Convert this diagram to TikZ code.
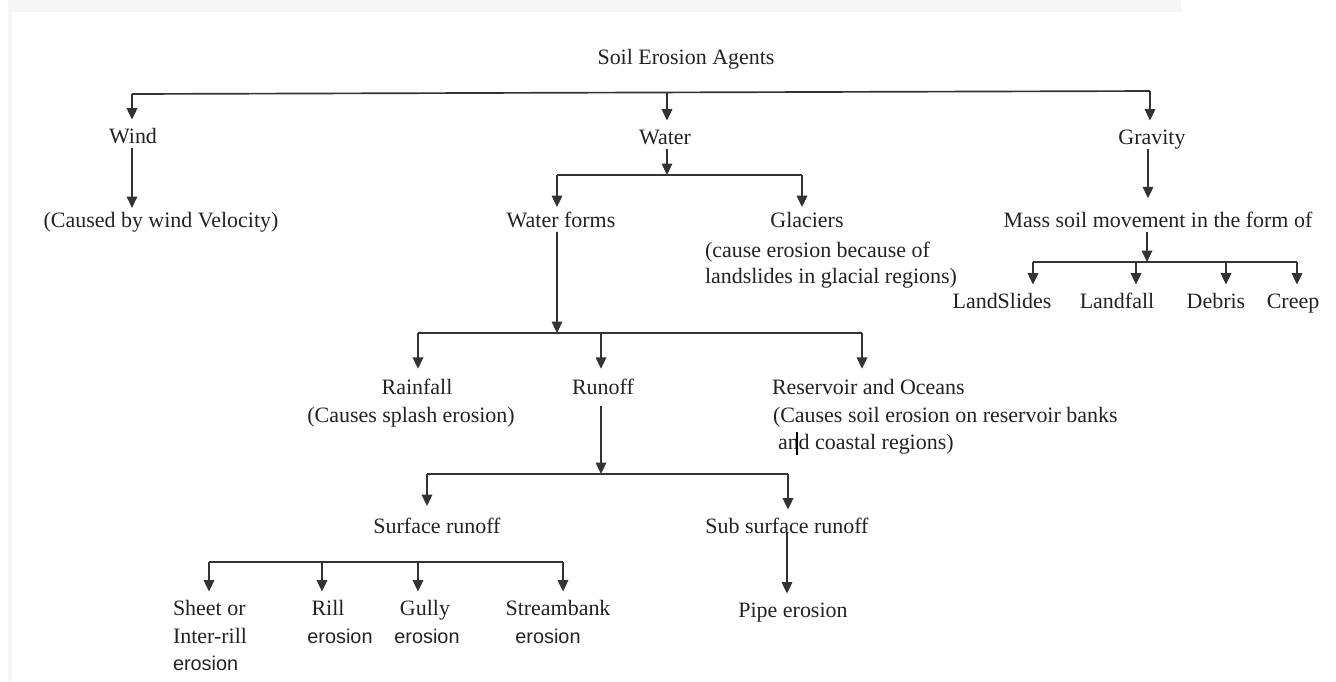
\documentclass[tikz,border=0pt]{standalone}
\usepackage{fontspec}
\setmainfont{Liberation Serif}
\newfontfamily\sansf{Liberation Sans}
\usetikzlibrary{arrows.meta}
\definecolor{lncol}{HTML}{333333}
\definecolor{txtcol}{HTML}{222222}
\definecolor{stripcol}{HTML}{F6F6F6}
\begin{document}
\begin{tikzpicture}[x=0.02cm,y=-0.02cm,
  lbl/.style={inner sep=0pt, outer sep=0pt, font=\fontsize{12.5}{15.6}\selectfont, text height=8.5pt, text depth=2.5pt, text=txtcol},
  sl/.style={lbl, font=\sansf\fontsize{11.3}{15.6}\selectfont},
  ln/.style={draw=lncol, line width=0.95pt},
  arr/.style={ln, -{Triangle[length=6.5pt,width=6pt]}, shorten >=5pt},
]
\useasboundingbox (0,0) rectangle (1336,681);
\fill[stripcol] (8,0) rectangle (1181,12);
\fill[stripcol] (8,12) rectangle (12,681);

% nodes
\node[lbl] (title) at (686,59) {Soil Erosion Agents};
\node[lbl] (wind) at (133,138) {Wind};
\node[lbl] (water) at (665,139) {Water};
\node[lbl] (gravity) at (1152,139) {Gravity};
\node[lbl] (windc) at (161,222) {(Caused by wind Velocity)};
\node[lbl] (wforms) at (561,222) {Water forms};
\node[lbl] (glaciers) at (807,222) {Glaciers};
\node[lbl,anchor=west] (glac2) at (705,252) {(cause erosion because of};
\node[lbl,anchor=west] (glac3) at (705,278) {landslides in glacial regions)};
\node[lbl] (mass) at (1158,222) {Mass soil movement in the form of};
\node[lbl] (landslides) at (1002,303) {LandSlides};
\node[lbl] (landfall) at (1117,303) {Landfall};
\node[lbl] (debris) at (1216,303) {Debris};
\node[lbl] (creep) at (1293,303) {Creep};
\node[lbl] (rainfall) at (417,389) {Rainfall};
\node[lbl] (splash) at (411,417) {(Causes splash erosion)};
\node[lbl] (runoff) at (603,389) {Runoff};
\node[lbl,anchor=west] (reservoir) at (772,389) {Reservoir and Oceans};
\node[lbl,anchor=west] (res2) at (773,417) {(Causes soil erosion on reservoir banks};
\node[lbl,anchor=west] (res3) at (778,444) {and coastal regions)};
\node[lbl] (surface) at (437,528) {Surface runoff};
\node[lbl] (sub) at (787,528) {Sub surface runoff};
\node[lbl] (pipe) at (793,612) {Pipe erosion};
\node[lbl,anchor=west] (sheet) at (173,610) {Sheet or};
\node[lbl,anchor=west] (sheet2) at (173,638) {Inter-rill};
\node[sl,anchor=west] (sheet3) at (173,665) {erosion};
\node[lbl] (rill) at (328,610) {Rill};
\node[sl] (rill2) at (340,638) {erosion};
\node[lbl] (gully) at (425,610) {Gully};
\node[sl] (gully2) at (427,638) {erosion};
\node[lbl] (stream) at (558,610) {Streambank};
\node[sl] (stream2) at (548,638) {erosion};

% top level bar
\coordinate (tb1) at (132,94);
\coordinate (tb2) at (1150,91);
\coordinate (tb3) at (667,92.4);
\draw[ln] (tb1) -- (tb2);
\draw[arr] (tb1) -- (tb1 |- wind.north);
\draw[arr] (tb3) -- (tb3 |- water.north);
\draw[arr] (tb2) -- (tb2 |- gravity.north);

% wind
\draw[arr, shorten >=2.5pt] (wind.south -| tb1) -- (tb1 |- windc.north);

% water
\coordinate (wb1) at (557,175);
\coordinate (wb2) at (802,175);
\draw[ln] (wb1) -- (wb2);
\draw[arr, shorten >=0pt] (water.south -| tb3) -- (tb3 |- wb1);
\draw[arr, shorten >=3pt] (wb1) -- (wb1 |- wforms.north);
\draw[arr, shorten >=3pt] (wb2) -- (wb2 |- glaciers.north);

% gravity
\coordinate (gc) at (1148,200);
\draw[arr, shorten >=8pt] (gravity.south -| gc) -- (gc |- mass.north);
\coordinate (mb1) at (1033,262);
\coordinate (mb2) at (1136,262);
\coordinate (mb3) at (1226,262);
\coordinate (mb4) at (1297,262);
\coordinate (mc) at (1147,262);
\draw[ln] (mb1) -- (mb4);
\draw[arr, shorten >=0pt] (mass.south -| mc) -- (mc);
\draw[arr] (mb1) -- (mb1 |- landslides.north);
\draw[arr] (mb2) -- (mb2 |- landfall.north);
\draw[arr] (mb3) -- (mb3 |- debris.north);
\draw[arr] (mb4) -- (mb4 |- creep.north);

% water forms
\coordinate (fb1) at (418,333);
\coordinate (fb2) at (601,333);
\coordinate (fb3) at (862,333);
\coordinate (fc) at (557,333);
\draw[ln] (fb1) -- (fb3);
\draw[arr, shorten >=0pt] (wforms.south -| fc) -- (fc);
\draw[arr, shorten >=6pt] (fb1) -- (fb1 |- rainfall.north);
\draw[arr, shorten >=6pt] (fb2) -- (fb2 |- runoff.north);
\draw[arr, shorten >=6pt] (fb3) -- (fb3 |- reservoir.north);

% runoff
\coordinate (rb1) at (427,474);
\coordinate (rb2) at (788,474);
\coordinate (rc) at (601,474);
\draw[ln] (rb1) -- (rb2);
\draw[arr, shorten >=0pt, shorten <=4pt] (runoff.south -| rc) -- (rc);
\draw[arr, shorten >=7pt] (rb1) -- (rb1 |- surface.north);
\draw[arr] (rb2) -- (rb2 |- sub.north);

% sub surface
\draw[arr] ([yshift=3pt]sub.south) -- (sub.south |- pipe.north);

% surface runoff bar
\coordinate (sb1) at (209,562);
\coordinate (sb2) at (322,562);
\coordinate (sb3) at (418,562);
\coordinate (sb4) at (563,562);
\draw[ln] (sb1) -- (sb4);
\draw[arr] (sb1) -- (sb1 |- sheet.north);
\draw[arr] (sb2) -- (sb2 |- rill.north);
\draw[arr] (sb3) -- (sb3 |- gully.north);
\draw[arr] (sb4) -- (sb4 |- stream.north);

% text cursor mark
\draw[line width=1.2pt, black] (797,432) -- (797,455);
\end{tikzpicture}
\end{document}
